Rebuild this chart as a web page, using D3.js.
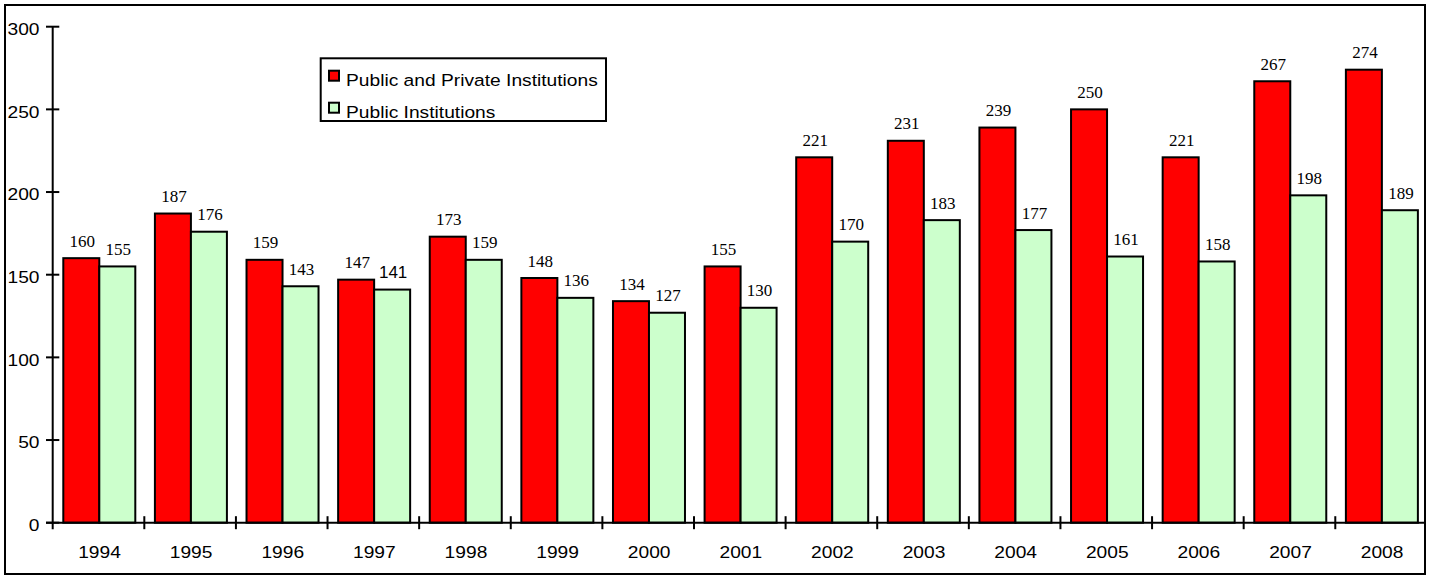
<!DOCTYPE html>
<html>
<head>
<meta charset="utf-8">
<script src="https://cdn.jsdelivr.net/npm/d3@7"></script>
<style>
  html, body { margin: 0; padding: 0; background: #fff; }
  svg { display: block; }
</style>
</head>
<body>
<svg id="chart" width="1432" height="576"></svg>
<script>
const years = ["1994","1995","1996","1997","1998","1999","2000","2001","2002","2003","2004","2005","2006","2007","2008"];
const publicPrivate = [160,187,159,147,173,148,134,155,221,231,239,250,221,267,274];
const publicOnly = [155,176,143,141,159,136,127,130,170,183,177,161,158,198,189];
const seriesNames = ["Public and Private Institutions", "Public Institutions"];
const seriesColors = ["#FF0000", "#CCFFCC"];
const yTicks = [0,50,100,150,200,250,300];

const svg = d3.select("#chart");
const SX = 1.13; // horizontal stretch of sans text

// outer border
svg.append("rect").attr("x",5).attr("y",5).attr("width",1420).attr("height",569)
  .attr("fill","none").attr("stroke","#000").attr("stroke-width",2);

const x = d3.scaleBand().domain(years).range([52.7, 1426.9]).padding(0);
const xs = d3.scaleBand().domain([0,1]).range([10.6, 82.6]).padding(0);
const y = d3.scaleLinear().domain([0,300]).range([522.7, 26.7]);

const data = years.map((yr,i)=>({year:yr, vals:[publicPrivate[i], publicOnly[i]]}));

// bars
const g = svg.append("g");
data.forEach((d,i)=>{
  d.vals.forEach((v,s)=>{
    g.append("rect")
      .attr("x", x(d.year)+xs(s))
      .attr("y", y(v))
      .attr("width", xs.bandwidth())
      .attr("height", y(0)-y(v))
      .attr("fill", seriesColors[s])
      .attr("stroke","#000").attr("stroke-width",2);
  });
});

// value labels
data.forEach((d,i)=>{
  d.vals.forEach((v,s)=>{
    const sans = (s===1 && i===3);
    g.append("text")
      .attr("x", x(d.year)+xs(s)+xs.bandwidth()/2+1)
      .attr("y", y(v)-11.5)
      .attr("text-anchor","middle")
      .attr("font-family", sans ? "Liberation Sans, Arial, sans-serif" : "Liberation Serif, Times New Roman, serif")
      .attr("font-size", 17)
      .attr("fill","#000")
      .text(v);
  });
});

// y axis
const ax = svg.append("g");
ax.append("line").attr("x1",x.range()[0]).attr("x2",x.range()[0])
  .attr("y1",y(300)).attr("y2",y(0)+6.5).attr("stroke","#000").attr("stroke-width",2);
yTicks.forEach(t=>{
  ax.append("line").attr("x1",46).attr("x2",59.3).attr("y1",y(t)).attr("y2",y(t))
    .attr("stroke","#000").attr("stroke-width",2);
  ax.append("text")
    .attr("transform",`translate(39.5,${y(t)+8.3}) scale(${SX},1)`)
    .attr("text-anchor","end")
    .attr("font-family","Liberation Sans, Arial, sans-serif")
    .attr("font-size",17).attr("fill","#000")
    .text(t);
});

// x axis
ax.append("line").attr("x1",46).attr("x2",1426).attr("y1",y(0)).attr("y2",y(0))
  .attr("stroke","#000").attr("stroke-width",2);
years.forEach((yr,i)=>{
  if(i>0){
    ax.append("line").attr("x1",x(yr)).attr("x2",x(yr)).attr("y1",y(0)-6.5).attr("y2",y(0)+6.5)
      .attr("stroke","#000").attr("stroke-width",2);
  }
  ax.append("text")
    .attr("transform",`translate(${x(yr)+x.bandwidth()/2+1},558) scale(${SX},1)`)
    .attr("text-anchor","middle")
    .attr("font-family","Liberation Sans, Arial, sans-serif")
    .attr("font-size",17).attr("fill","#000")
    .text(yr);
});

// legend
const lg = svg.append("g");
lg.append("rect").attr("x",320.7).attr("y",58.3).attr("width",285.3).attr("height",62.7)
  .attr("fill","#fff").attr("stroke","#000").attr("stroke-width",2);
seriesNames.forEach((nm,s)=>{
  const cy = 75.7 + s*32;
  lg.append("rect").attr("x",329).attr("y",cy-5).attr("width",10).attr("height",10)
    .attr("fill",seriesColors[s]).attr("stroke","#000").attr("stroke-width",2);
  lg.append("text")
    .attr("transform",`translate(346,${cy+10.3}) scale(${SX},1)`)
    .attr("font-family","Liberation Sans, Arial, sans-serif")
    .attr("font-size",17).attr("fill","#000")
    .text(nm);
});
</script>
</body>
</html>
